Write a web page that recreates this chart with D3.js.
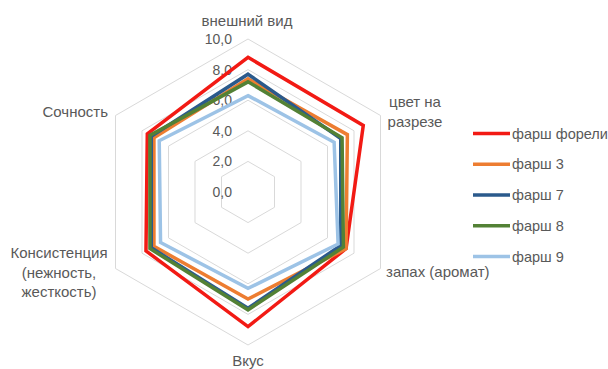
<!DOCTYPE html>
<html>
<head>
<meta charset="utf-8">
<script src="https://cdn.jsdelivr.net/npm/d3@7"></script>
<style>
  html, body { margin: 0; padding: 0; background: #fff; }
  svg { display: block; }
  text { font-family: "Liberation Sans", Arial, sans-serif; fill: #595959; }
</style>
</head>
<body>
<svg id="chart" width="608" height="369"></svg>
<script>
// Axes of the sensory profile, clockwise from the top
const categories = [
  ["внешний вид"],
  ["цвет на", "разрезе"],
  ["запах (аромат)"],
  ["Вкус"],
  ["Консистенция", "(нежность,", "жесткость)"],
  ["Сочность"]
];

const seriesNames = ["фарш форели", "фарш 3", "фарш 7", "фарш 8", "фарш 9"];
const seriesColors = ["#F21A14", "#ED7D31", "#2B5A8C", "#538135", "#9DC3E6"];

const farshForeli = [8.8, 8.7, 7.4, 8.8, 7.7, 7.6];
const farsh3      = [7.4, 7.5, 7.4, 7.0, 7.1, 7.1];
const farsh7      = [7.7, 7.0, 7.0, 7.6, 7.3, 7.3];
const farsh8      = [7.2, 7.1, 7.2, 7.7, 7.4, 7.4];
const farsh9      = [6.3, 6.5, 6.8, 6.3, 6.6, 6.7];

const tickValues = [0, 2, 4, 6, 8, 10];
const tickLabels = ["0,0", "2,0", "4,0", "6,0", "8,0", "10,0"];

const seriesValues = [farshForeli, farsh3, farsh7, farsh8, farsh9];

const svg = d3.select("#chart");
const cx = 248, cy = 192, R = 153;

const r = d3.scaleLinear().domain([0, 10]).range([0, R]);
const angle = d3.scaleLinear().domain([0, categories.length]).range([0, 2 * Math.PI]);

const g = svg.append("g").attr("transform", `translate(${cx},${cy})`);

// Hexagonal grid rings
const ring = d3.lineRadial()
  .angle((d, i) => angle(i))
  .radius(d => r(d))
  .curve(d3.curveLinearClosed);

g.append("g").selectAll("path")
  .data(tickValues.filter(v => v > 0))
  .join("path")
  .attr("d", v => ring(categories.map(() => v)))
  .attr("fill", "none")
  .attr("stroke", "#D9D9D9")
  .attr("stroke-width", 1);

// Value labels along the vertical axis
g.append("g").selectAll("text")
  .data(tickValues)
  .join("text")
  .attr("x", -16)
  .attr("y", v => -r(v) + 5)
  .attr("text-anchor", "end")
  .attr("font-size", 14)
  .text((v, i) => tickLabels[i]);

// Series polygons
const seriesLine = d3.lineRadial()
  .angle((d, i) => angle(i))
  .radius(d => r(d))
  .curve(d3.curveLinearClosed);

g.append("g").selectAll("path")
  .data(seriesValues)
  .join("path")
  .attr("d", d => seriesLine(d))
  .attr("fill", "none")
  .attr("stroke", (d, i) => seriesColors[i])
  .attr("stroke-width", 3.5)
  .attr("stroke-linejoin", "miter");

// Category labels
const catPos = [
  { x: 247, y: 26, anchor: "middle" },
  { x: 415, y: 107, anchor: "middle" },
  { x: 386, y: 277, anchor: "start" },
  { x: 248, y: 366, anchor: "middle" },
  { x: 59, y: 258, anchor: "middle" },
  { x: 108, y: 117, anchor: "end" }
];

categories.forEach((lines, i) => {
  const p = catPos[i];
  const t = svg.append("text")
    .attr("x", p.x)
    .attr("y", p.y)
    .attr("text-anchor", p.anchor)
    .attr("font-size", 15);
  lines.forEach((s, k) => {
    t.append("tspan")
      .attr("x", p.x)
      .attr("dy", k === 0 ? 0 : 19.5)
      .text(s);
  });
});

// Legend
const legend = svg.append("g");
const legendY = d3.scalePoint().domain(seriesNames).range([133.5, 256.5]);
seriesNames.forEach((name, i) => {
  const y = legendY(name);
  legend.append("line")
    .attr("x1", 473).attr("x2", 510)
    .attr("y1", y).attr("y2", y)
    .attr("stroke", seriesColors[i])
    .attr("stroke-width", 3.5);
  legend.append("text")
    .attr("x", 512)
    .attr("y", y + 5)
    .attr("font-size", 14.5)
    .text(name);
});
</script>
</body>
</html>
